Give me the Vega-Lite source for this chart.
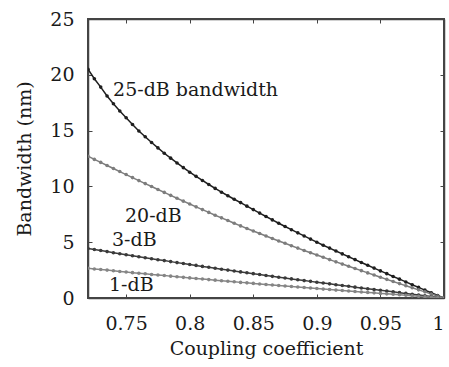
{
  "$schema": "https://vega.github.io/schema/vega-lite/v6.json",
  "width": 356,
  "height": 279,
  "autosize": {"type": "none"},
  "padding": {"left": 88, "top": 19, "right": 5, "bottom": 69},
  "background": "white",
  "datasets": {
    "curves": [
      {"c":0.720,"k25":20.5,"k20":12.7,"k3":4.43,"k1":2.66},
      {"c":0.725,"k25":19.65,"k20":12.42,"k3":4.34,"k1":2.6},
      {"c":0.730,"k25":18.9,"k20":12.15,"k3":4.25,"k1":2.55},
      {"c":0.735,"k25":18.1,"k20":11.87,"k3":4.16,"k1":2.5},
      {"c":0.740,"k25":17.4,"k20":11.6,"k3":4.06,"k1":2.44},
      {"c":0.745,"k25":16.75,"k20":11.33,"k3":3.97,"k1":2.38},
      {"c":0.750,"k25":16.15,"k20":11.06,"k3":3.88,"k1":2.33},
      {"c":0.755,"k25":15.55,"k20":10.79,"k3":3.79,"k1":2.27},
      {"c":0.760,"k25":14.97,"k20":10.52,"k3":3.7,"k1":2.22},
      {"c":0.765,"k25":14.45,"k20":10.25,"k3":3.61,"k1":2.17},
      {"c":0.770,"k25":13.93,"k20":9.99,"k3":3.52,"k1":2.11},
      {"c":0.775,"k25":13.45,"k20":9.72,"k3":3.43,"k1":2.06},
      {"c":0.780,"k25":12.97,"k20":9.46,"k3":3.35,"k1":2.01},
      {"c":0.785,"k25":12.53,"k20":9.2,"k3":3.26,"k1":1.96},
      {"c":0.790,"k25":12.1,"k20":8.94,"k3":3.17,"k1":1.9},
      {"c":0.795,"k25":11.68,"k20":8.68,"k3":3.09,"k1":1.85},
      {"c":0.800,"k25":11.27,"k20":8.42,"k3":3.0,"k1":1.8},
      {"c":0.805,"k25":10.9,"k20":8.17,"k3":2.92,"k1":1.75},
      {"c":0.810,"k25":10.53,"k20":7.92,"k3":2.83,"k1":1.7},
      {"c":0.815,"k25":10.17,"k20":7.67,"k3":2.75,"k1":1.65},
      {"c":0.820,"k25":9.82,"k20":7.42,"k3":2.66,"k1":1.6},
      {"c":0.825,"k25":9.48,"k20":7.18,"k3":2.58,"k1":1.55},
      {"c":0.830,"k25":9.16,"k20":6.94,"k3":2.5,"k1":1.5},
      {"c":0.835,"k25":8.85,"k20":6.7,"k3":2.42,"k1":1.45},
      {"c":0.840,"k25":8.55,"k20":6.46,"k3":2.34,"k1":1.4},
      {"c":0.845,"k25":8.23,"k20":6.23,"k3":2.26,"k1":1.36},
      {"c":0.850,"k25":7.92,"k20":6.0,"k3":2.18,"k1":1.31},
      {"c":0.855,"k25":7.61,"k20":5.78,"k3":2.1,"k1":1.26},
      {"c":0.860,"k25":7.3,"k20":5.55,"k3":2.02,"k1":1.21},
      {"c":0.865,"k25":7.0,"k20":5.33,"k3":1.94,"k1":1.16},
      {"c":0.870,"k25":6.7,"k20":5.11,"k3":1.86,"k1":1.12},
      {"c":0.875,"k25":6.41,"k20":4.9,"k3":1.79,"k1":1.07},
      {"c":0.880,"k25":6.12,"k20":4.68,"k3":1.71,"k1":1.03},
      {"c":0.885,"k25":5.84,"k20":4.47,"k3":1.64,"k1":0.98},
      {"c":0.890,"k25":5.56,"k20":4.26,"k3":1.56,"k1":0.94},
      {"c":0.895,"k25":5.28,"k20":4.05,"k3":1.49,"k1":0.89},
      {"c":0.900,"k25":5.0,"k20":3.85,"k3":1.41,"k1":0.85},
      {"c":0.905,"k25":4.73,"k20":3.65,"k3":1.34,"k1":0.8},
      {"c":0.910,"k25":4.47,"k20":3.44,"k3":1.27,"k1":0.76},
      {"c":0.915,"k25":4.21,"k20":3.24,"k3":1.19,"k1":0.71},
      {"c":0.920,"k25":3.95,"k20":3.04,"k3":1.12,"k1":0.67},
      {"c":0.925,"k25":3.7,"k20":2.84,"k3":1.05,"k1":0.63},
      {"c":0.930,"k25":3.44,"k20":2.64,"k3":0.97,"k1":0.58},
      {"c":0.935,"k25":3.18,"k20":2.45,"k3":0.9,"k1":0.54},
      {"c":0.940,"k25":2.93,"k20":2.25,"k3":0.83,"k1":0.5},
      {"c":0.945,"k25":2.68,"k20":2.06,"k3":0.76,"k1":0.46},
      {"c":0.950,"k25":2.43,"k20":1.86,"k3":0.69,"k1":0.41},
      {"c":0.955,"k25":2.18,"k20":1.67,"k3":0.62,"k1":0.37},
      {"c":0.960,"k25":1.93,"k20":1.48,"k3":0.55,"k1":0.33},
      {"c":0.965,"k25":1.69,"k20":1.29,"k3":0.48,"k1":0.29},
      {"c":0.970,"k25":1.44,"k20":1.1,"k3":0.41,"k1":0.25},
      {"c":0.975,"k25":1.19,"k20":0.92,"k3":0.34,"k1":0.2},
      {"c":0.980,"k25":0.95,"k20":0.73,"k3":0.27,"k1":0.16},
      {"c":0.985,"k25":0.71,"k20":0.55,"k3":0.2,"k1":0.12},
      {"c":0.990,"k25":0.47,"k20":0.36,"k3":0.13,"k1":0.08},
      {"c":0.995,"k25":0.23,"k20":0.18,"k3":0.07,"k1":0.04},
      {"c":1.000,"k25":0.0,"k20":0.0,"k3":0.0,"k1":0.0}
    ],
    "labels": [
      {"c":0.7397,"v":18.64,"t":"25-dB bandwidth"},
      {"c":0.7491,"v":7.35,"t":"20-dB"},
      {"c":0.7389,"v":5.2,"t":"3-dB"},
      {"c":0.7365,"v":1.16,"t":"1-dB"}
    ]
  },
  "layer": [
    {
      "layer": [
        {
          "data": {"name": "labels"},
          "mark": {"type": "rect", "fill": null, "fillOpacity": 0, "stroke": "#444444", "strokeWidth": 1.5},
          "encoding": {
            "x": {"datum": 0.72, "type": "quantitative"},
            "x2": {"datum": 1},
            "y": {"datum": 0, "type": "quantitative"},
            "y2": {"datum": 25}
          }
        },
        {
          "data": {"name": "curves"},
          "transform": [{"fold": ["k25", "k20", "k3", "k1"], "as": ["series", "bw"]}],
          "mark": {"type": "line", "strokeWidth": 1.5, "clip": true, "point": {"filled": true, "size": 13}},
          "encoding": {
            "x": {"field": "c", "type": "quantitative",
                  "scale": {"domain": [0.72, 1], "nice": false, "zero": false},
                  "axis": {"values": [0.75, 0.8, 0.85, 0.9, 0.95, 1], "format": "~g", "title": "Coupling coefficient", "labelPadding": 20, "titlePadding": 6}},
            "y": {"field": "bw", "type": "quantitative",
                  "scale": {"domain": [0, 25], "nice": false},
                  "axis": {"values": [0, 5, 10, 15, 20, 25], "title": "Bandwidth (nm)", "labelPadding": 18, "titlePadding": 15}},
            "color": {"field": "series", "type": "nominal",
                      "scale": {"domain": ["k25", "k20", "k3", "k1"], "range": ["#1e1e1e", "#7d7d7d", "#3a3a3a", "#858585"]},
                      "legend": null},
            "detail": {"field": "series"}
          }
        },
        {
          "data": {"name": "labels"},
          "mark": {"type": "text", "align": "left", "baseline": "middle", "font": "DejaVu Serif", "fontSize": 19, "color": "#1a1a1a"},
          "encoding": {
            "x": {"field": "c", "type": "quantitative"},
            "y": {"field": "v", "type": "quantitative"},
            "text": {"field": "t"}
          }
        }
      ]
    },
    {
      "data": {"name": "labels"},
      "mark": {"type": "point", "opacity": 0},
      "encoding": {
        "x": {"field": "c", "type": "quantitative",
              "scale": {"domain": [0.72, 1], "nice": false, "zero": false},
              "axis": {"orient": "top", "values": [0.75, 0.8, 0.85, 0.9, 0.95], "labels": false, "title": null}},
        "y": {"field": "v", "type": "quantitative",
              "scale": {"domain": [0, 25], "nice": false},
              "axis": {"orient": "right", "values": [5, 10, 15, 20], "labels": false, "title": null}}
      }
    }
  ],
  "resolve": {"scale": {"x": "independent", "y": "independent"}},
  "config": {
    "view": {"stroke": "#444444", "strokeWidth": 1.5},
    "axis": {
      "domain": true, "domainColor": "#444444", "domainWidth": 1.5, "grid": false,
      "tickSize": -4, "tickColor": "#444444", "tickWidth": 1,
      "labelFont": "DejaVu Serif", "labelFontSize": 19, "labelColor": "#1a1a1a",
      "titleFont": "DejaVu Serif", "titleFontSize": 19, "titleFontWeight": "normal", "titleColor": "#1a1a1a"
    }
  }
}
